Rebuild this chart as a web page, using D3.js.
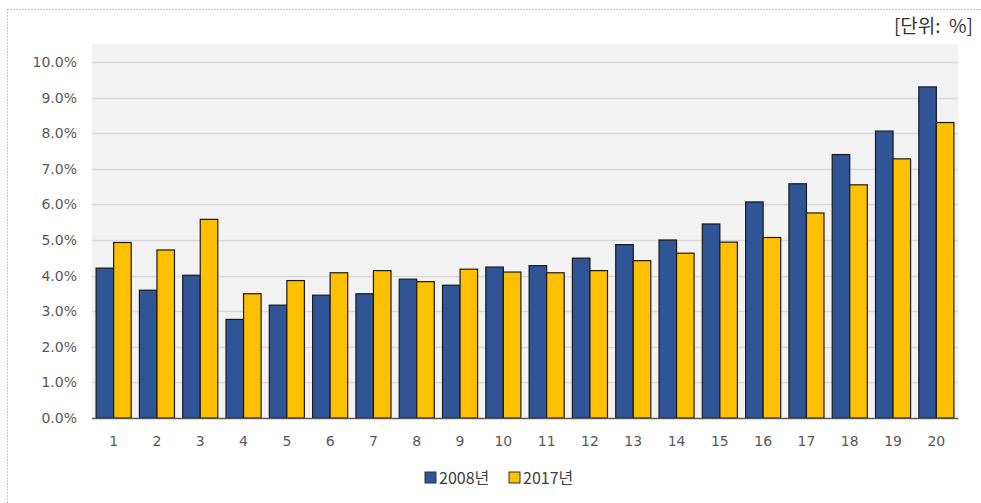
<!DOCTYPE html>
<html>
<head>
<meta charset="utf-8">
<script src="https://cdn.jsdelivr.net/npm/d3@7"></script>
<style>
  html, body { margin: 0; padding: 0; background: #ffffff; }
  svg { display: block; }
  text { font-family: "Noto Sans CJK KR", "Open Sans", sans-serif; }
</style>
</head>
<body>
<svg id="chart" width="981" height="503"></svg>
<script>
// Categories (1–20) and share per category for each year, in %
const categories = ["1","2","3","4","5","6","7","8","9","10","11","12","13","14","15","16","17","18","19","20"];
const values2008 = [4.21, 3.59, 4.01, 2.77, 3.17, 3.45, 3.49, 3.90, 3.73, 4.24, 4.28, 4.49, 4.87, 5.00, 5.45, 6.07, 6.58, 7.40, 8.06, 9.30];
const values2017 = [4.93, 4.72, 5.58, 3.49, 3.86, 4.08, 4.14, 3.83, 4.18, 4.10, 4.08, 4.14, 4.42, 4.63, 4.94, 5.07, 5.76, 6.55, 7.28, 8.30];
const seriesNames = ["2008년", "2017년"];
const seriesColors = ["#2f5597", "#ffc000"];
const yTicks = [0, 1, 2, 3, 4, 5, 6, 7, 8, 9, 10];
const unitLabel = "[단위:  %]";

const svg = d3.select("#chart");
const W = 981, H = 503;
const numFont = "\"DejaVu Sans\", sans-serif";

// outer dotted frame
svg.append("line").attr("x1", 7.5).attr("x2", W).attr("y1", 9.5).attr("y2", 9.5)
  .attr("stroke", "#8c8c8c").attr("stroke-width", 1).attr("stroke-dasharray", "1,2");
svg.append("line").attr("x1", 7.5).attr("x2", 7.5).attr("y1", 9.5).attr("y2", H)
  .attr("stroke", "#8c8c8c").attr("stroke-width", 1).attr("stroke-dasharray", "1,2");

// unit note
svg.append("text").attr("x", 973).attr("y", 33).attr("text-anchor", "end")
  .style("font-size", "19px").attr("fill", "#333").style("white-space", "pre").text(unitLabel);

const plot = { left: 92, right: 958, top: 44, bottom: 418 };

// plot background
svg.append("rect").attr("x", plot.left).attr("y", plot.top)
  .attr("width", plot.right - plot.left).attr("height", plot.bottom - plot.top)
  .attr("fill", "#f2f2f2");

const y = d3.scaleLinear().domain([0, 10]).range([plot.bottom, 62]);
const x0 = d3.scaleBand().domain(categories).range([plot.left, plot.right])
  .paddingInner(0.19).paddingOuter(0.095);
const x1 = d3.scaleBand().domain(seriesNames).range([0, x0.bandwidth()]);

// gridlines
svg.append("g").selectAll("line").data(yTicks.filter(d => d > 0)).join("line")
  .attr("x1", plot.left).attr("x2", plot.right)
  .attr("y1", d => Math.round(y(d)) + 0.5).attr("y2", d => Math.round(y(d)) + 0.5)
  .attr("stroke", "#d9d9d9").attr("stroke-width", 1.3);

// y axis labels
const yAxis = d3.axisLeft(y).tickValues(yTicks).tickSize(0).tickPadding(0)
  .tickFormat(d => d.toFixed(1) + "%");
const gy = svg.append("g").attr("transform", `translate(77,0)`).call(yAxis);
gy.select(".domain").remove();
gy.selectAll("text").style("font-size", "14px").attr("fill", "#595959")
  .style("font-family", numFont);

// bars
const rows = categories.map((c, i) => ({ c, vals: [values2008[i], values2017[i]] }));
const groups = svg.append("g").selectAll("g").data(rows).join("g")
  .attr("transform", d => `translate(${x0(d.c)},0)`);
groups.selectAll("rect").data(d => d.vals.map((v, k) => ({ v, k }))).join("rect")
  .attr("x", d => x1(seriesNames[d.k]))
  .attr("y", d => y(d.v))
  .attr("width", x1.bandwidth())
  .attr("height", d => y(0) - y(d.v))
  .attr("fill", d => seriesColors[d.k])
  .attr("stroke", "#1a1a1a").attr("stroke-width", 1.2);

// x axis
const xAxis = d3.axisBottom(x0).tickSize(0).tickPadding(18);
const gx = svg.append("g").attr("transform", `translate(0,${plot.bottom})`).call(xAxis);
gx.select(".domain").remove();
gx.selectAll("text").style("font-size", "14px").attr("fill", "#595959")
  .style("font-family", numFont);
svg.append("line").attr("x1", plot.left).attr("x2", plot.right)
  .attr("y1", plot.bottom + 0.5).attr("y2", plot.bottom + 0.5)
  .attr("stroke", "#595959").attr("stroke-width", 1.5);

// legend
const legendItems = [{ x: 425 }, { x: 509 }];
const lg = svg.append("g").selectAll("g").data(seriesNames).join("g")
  .attr("transform", (d, i) => `translate(${legendItems[i].x},472)`);
lg.append("rect").attr("width", 11).attr("height", 11)
  .attr("fill", (d, i) => seriesColors[i]).attr("stroke", "#333").attr("stroke-width", 1);
lg.append("text").attr("x", 14).attr("y", 11.5).style("font-size", "16px").attr("fill", "#404040")
  .text(d => d);
</script>
</body>
</html>
